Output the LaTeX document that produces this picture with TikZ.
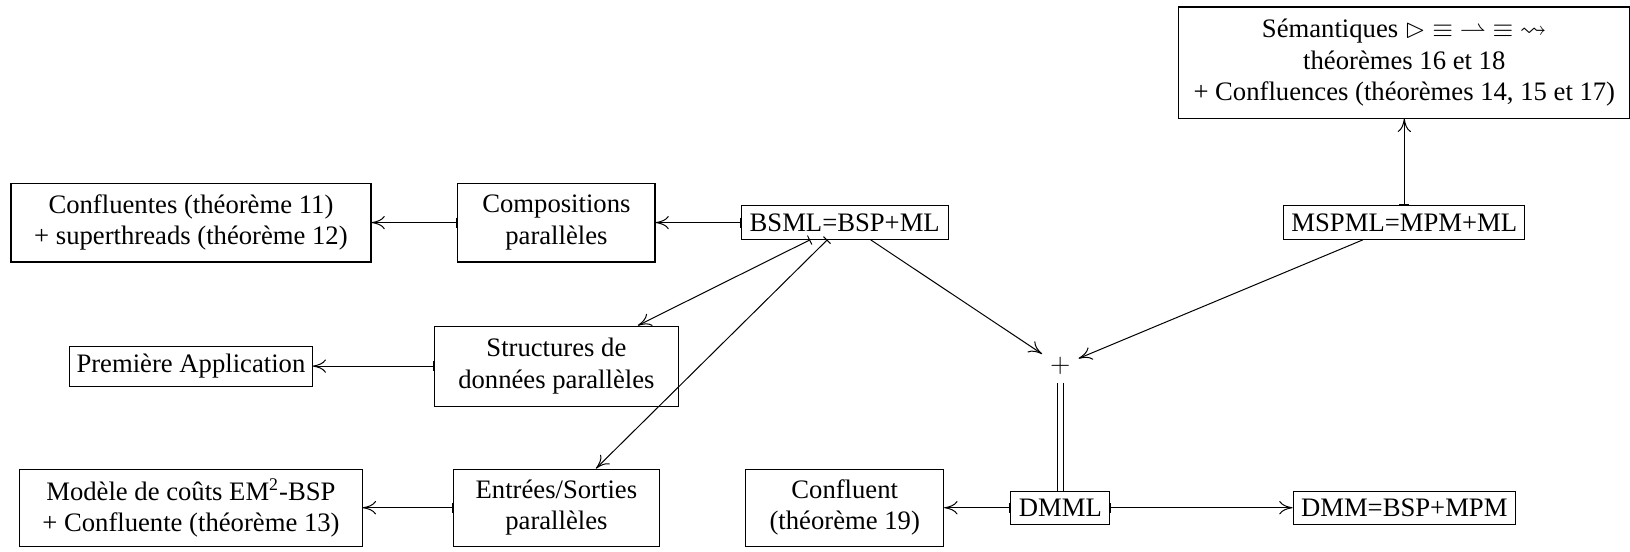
\documentclass[tikz,border=0pt]{standalone}
\usepackage{fontspec}
\setmainfont{Liberation Serif}
\usepackage{amssymb,latexsym}
\usetikzlibrary{arrows.meta}

\begin{document}
\begin{tikzpicture}[
    box/.style={rectangle, draw, line width=0.5pt, align=center, font=\large, inner sep=3pt, minimum height=35.5pt},
    small/.style={box, minimum height=15pt},
    arrow/.style={{Bar[width=4.5pt]}-{Computer Modern Rightarrow[length=6pt,width=6pt]}, line width=0.45pt},
    sumarrow/.style={-{Computer Modern Rightarrow[length=6pt,width=6pt]}, line width=0.45pt}
]
\useasboundingbox (0,0) rectangle (25.78,-8.715);

% Nodes
\node[box, minimum width=203pt, minimum height=50pt] (sem) at (22.21,-0.99) {Sémantiques $\rhd$ $\equiv$ $\rightharpoonup$ $\equiv$ $\rightsquigarrow$\\théorèmes 16 et 18\\+ Confluences (théorèmes 14, 15 et 17)};

\node[box, minimum width=162pt] (conf) at (3.02,-3.52) {Confluentes (théorème 11)\\+ superthreads (théorème 12)};
\node[box, minimum width=88.7pt] (comp) at (8.80,-3.52) {Compositions\\parallèles};
\node[small, minimum width=93pt] (bsml) at (13.36,-3.52) {BSML=BSP+ML};
\node[small, minimum width=108.5pt] (mspml) at (22.21,-3.52) {MSPML=MPM+ML};

\node[small, minimum width=109pt, minimum height=18pt] (prem) at (3.02,-5.79) {Première Application};
\node[box, minimum width=110pt, minimum height=36pt] (struct) at (8.80,-5.79) {Structures de\\données parallèles};
\node[font=\large, minimum width=16pt, minimum height=14.4pt, inner sep=0pt] (plus) at (16.77,-5.79) {$+$};

\node[box, minimum width=154pt, minimum height=34.7pt] (model) at (3.02,-8.03) {Modèle de coûts EM\textsuperscript{2}-BSP\\+ Confluente (théorème 13)};
\node[box, minimum width=92.7pt, minimum height=34.7pt] (es) at (8.80,-8.03) {Entrées/Sorties\\parallèles};
\node[box, minimum width=89pt, minimum height=34.7pt] (confl) at (13.36,-8.03) {Confluent\\(théorème 19)};
\node[small, minimum width=44.5pt] (dmml) at (16.77,-8.03) {DMML};
\node[small, minimum width=100pt] (dmm) at (22.21,-8.03) {DMM=BSP+MPM};

% Arrows
\draw[arrow] (mspml) -- (sem);
\draw[arrow] (bsml) -- (comp);
\draw[arrow] (comp) -- (conf);
\draw[arrow] (bsml) -- (struct);
\draw[arrow] (bsml) -- (es);
\draw[arrow] (struct) -- (prem);
\draw[arrow] (es) -- (model);
\draw[sumarrow] (bsml) -- (plus);
\draw[sumarrow] (mspml) -- (plus);
\draw[double, double distance=2.2pt, line width=0.45pt] (plus) -- (dmml);
\draw[arrow] (dmml) -- (confl);
\draw[arrow] (dmml) -- (dmm);

\end{tikzpicture}
\end{document}
